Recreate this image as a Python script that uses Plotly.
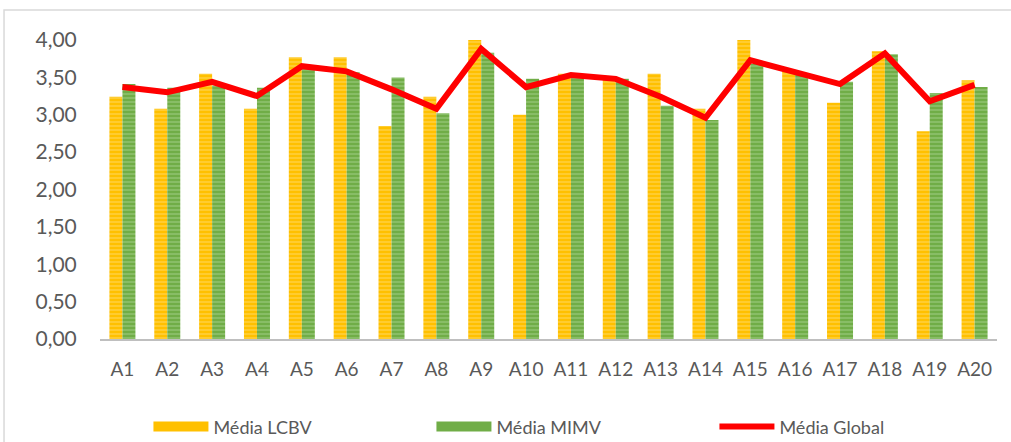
import plotly.graph_objects as go

categories = ["A1","A2","A3","A4","A5","A6","A7","A8","A9","A10",
              "A11","A12","A13","A14","A15","A16","A17","A18","A19","A20"]
media_lcbv = [3.24,3.08,3.55,3.08,3.77,3.77,2.85,3.24,4.00,3.00,
              3.55,3.49,3.55,3.08,4.00,3.61,3.16,3.85,2.78,3.46]
media_mimv = [3.41,3.36,3.39,3.36,3.64,3.57,3.50,3.02,3.83,3.48,
              3.52,3.48,3.12,2.93,3.68,3.55,3.44,3.81,3.29,3.37]
media_global = [3.37,3.30,3.44,3.25,3.65,3.58,3.34,3.08,3.88,3.37,
                3.53,3.48,3.24,2.96,3.73,3.56,3.41,3.82,3.18,3.40]
y_ticks = [0,0.5,1,1.5,2,2.5,3,3.5,4]
y_tick_labels = ["0,00","0,50","1,00","1,50","2,00","2,50","3,00","3,50","4,00"]

font_family = "Lato, 'Open Sans', sans-serif"
fig = go.Figure()
fig.add_trace(go.Bar(
    x=categories, y=media_lcbv, name="Média LCBV", showlegend=False,
    marker=dict(color="#FFC000", line=dict(width=0),
                pattern=dict(shape="-", fgcolor="#FFE38A", size=4, solidity=0.35)),
))
fig.add_trace(go.Bar(
    x=categories, y=media_mimv, name="Média MIMV", showlegend=False,
    marker=dict(color="#70AD47", line=dict(width=0),
                pattern=dict(shape="-", fgcolor="#B5D9A0", size=4, solidity=0.35)),
))
fig.add_trace(go.Scatter(
    x=categories, y=media_global, name="Média Global", mode="lines",
    line=dict(color="#FF0000", width=6), cliponaxis=False, showlegend=False,
))
# legend-only entries (Excel-style wide swatches)
fig.add_trace(go.Scatter(x=[None], y=[None], mode="lines", name="Média LCBV",
                         line=dict(color="#FFC000", width=10)))
fig.add_trace(go.Scatter(x=[None], y=[None], mode="lines", name="Média MIMV",
                         line=dict(color="#70AD47", width=10)))
fig.add_trace(go.Scatter(x=[None], y=[None], mode="lines", name="Média Global",
                         line=dict(color="#FF0000", width=6)))

fig.update_layout(
    width=1011, height=442,
    margin=dict(l=100, r=14, t=40, b=103, autoexpand=False),
    paper_bgcolor="white", plot_bgcolor="white",
    barmode="group", bargap=0.42, bargroupgap=0,
    font=dict(family=font_family, color="#595959"),
    showlegend=True,
    legend=dict(orientation="h", x=0.054, y=-0.294, xanchor="left", yanchor="middle",
                entrywidth=213, entrywidthmode="pixels", tracegroupgap=0,
                font=dict(size=18, color="#595959"), itemwidth=55),
    xaxis=dict(showline=True, linecolor="#BFBFBF", linewidth=2, ticks="outside",
               ticklen=12, tickcolor="rgba(0,0,0,0)",
               tickfont=dict(size=19, color="#595959"), showgrid=False),
    yaxis=dict(range=[0,4], tickvals=y_ticks, ticktext=y_tick_labels,
               showgrid=False, zeroline=False, showline=False,
               tickfont=dict(size=21, color="#595959"), ticklen=18, ticks="outside",
               tickcolor="rgba(0,0,0,0)"),
    shapes=[dict(type="rect", xref="paper", yref="paper",
                 x0=-0.107, x1=1.03, y0=-0.45, y1=1.100,
                 line=dict(color="#D9D9D9", width=1.5), fillcolor="rgba(0,0,0,0)", layer="below")],
)
fig.write_html("out.html", config={"displayModeBar": False},
               post_script="document.body.style.margin='0px';")
